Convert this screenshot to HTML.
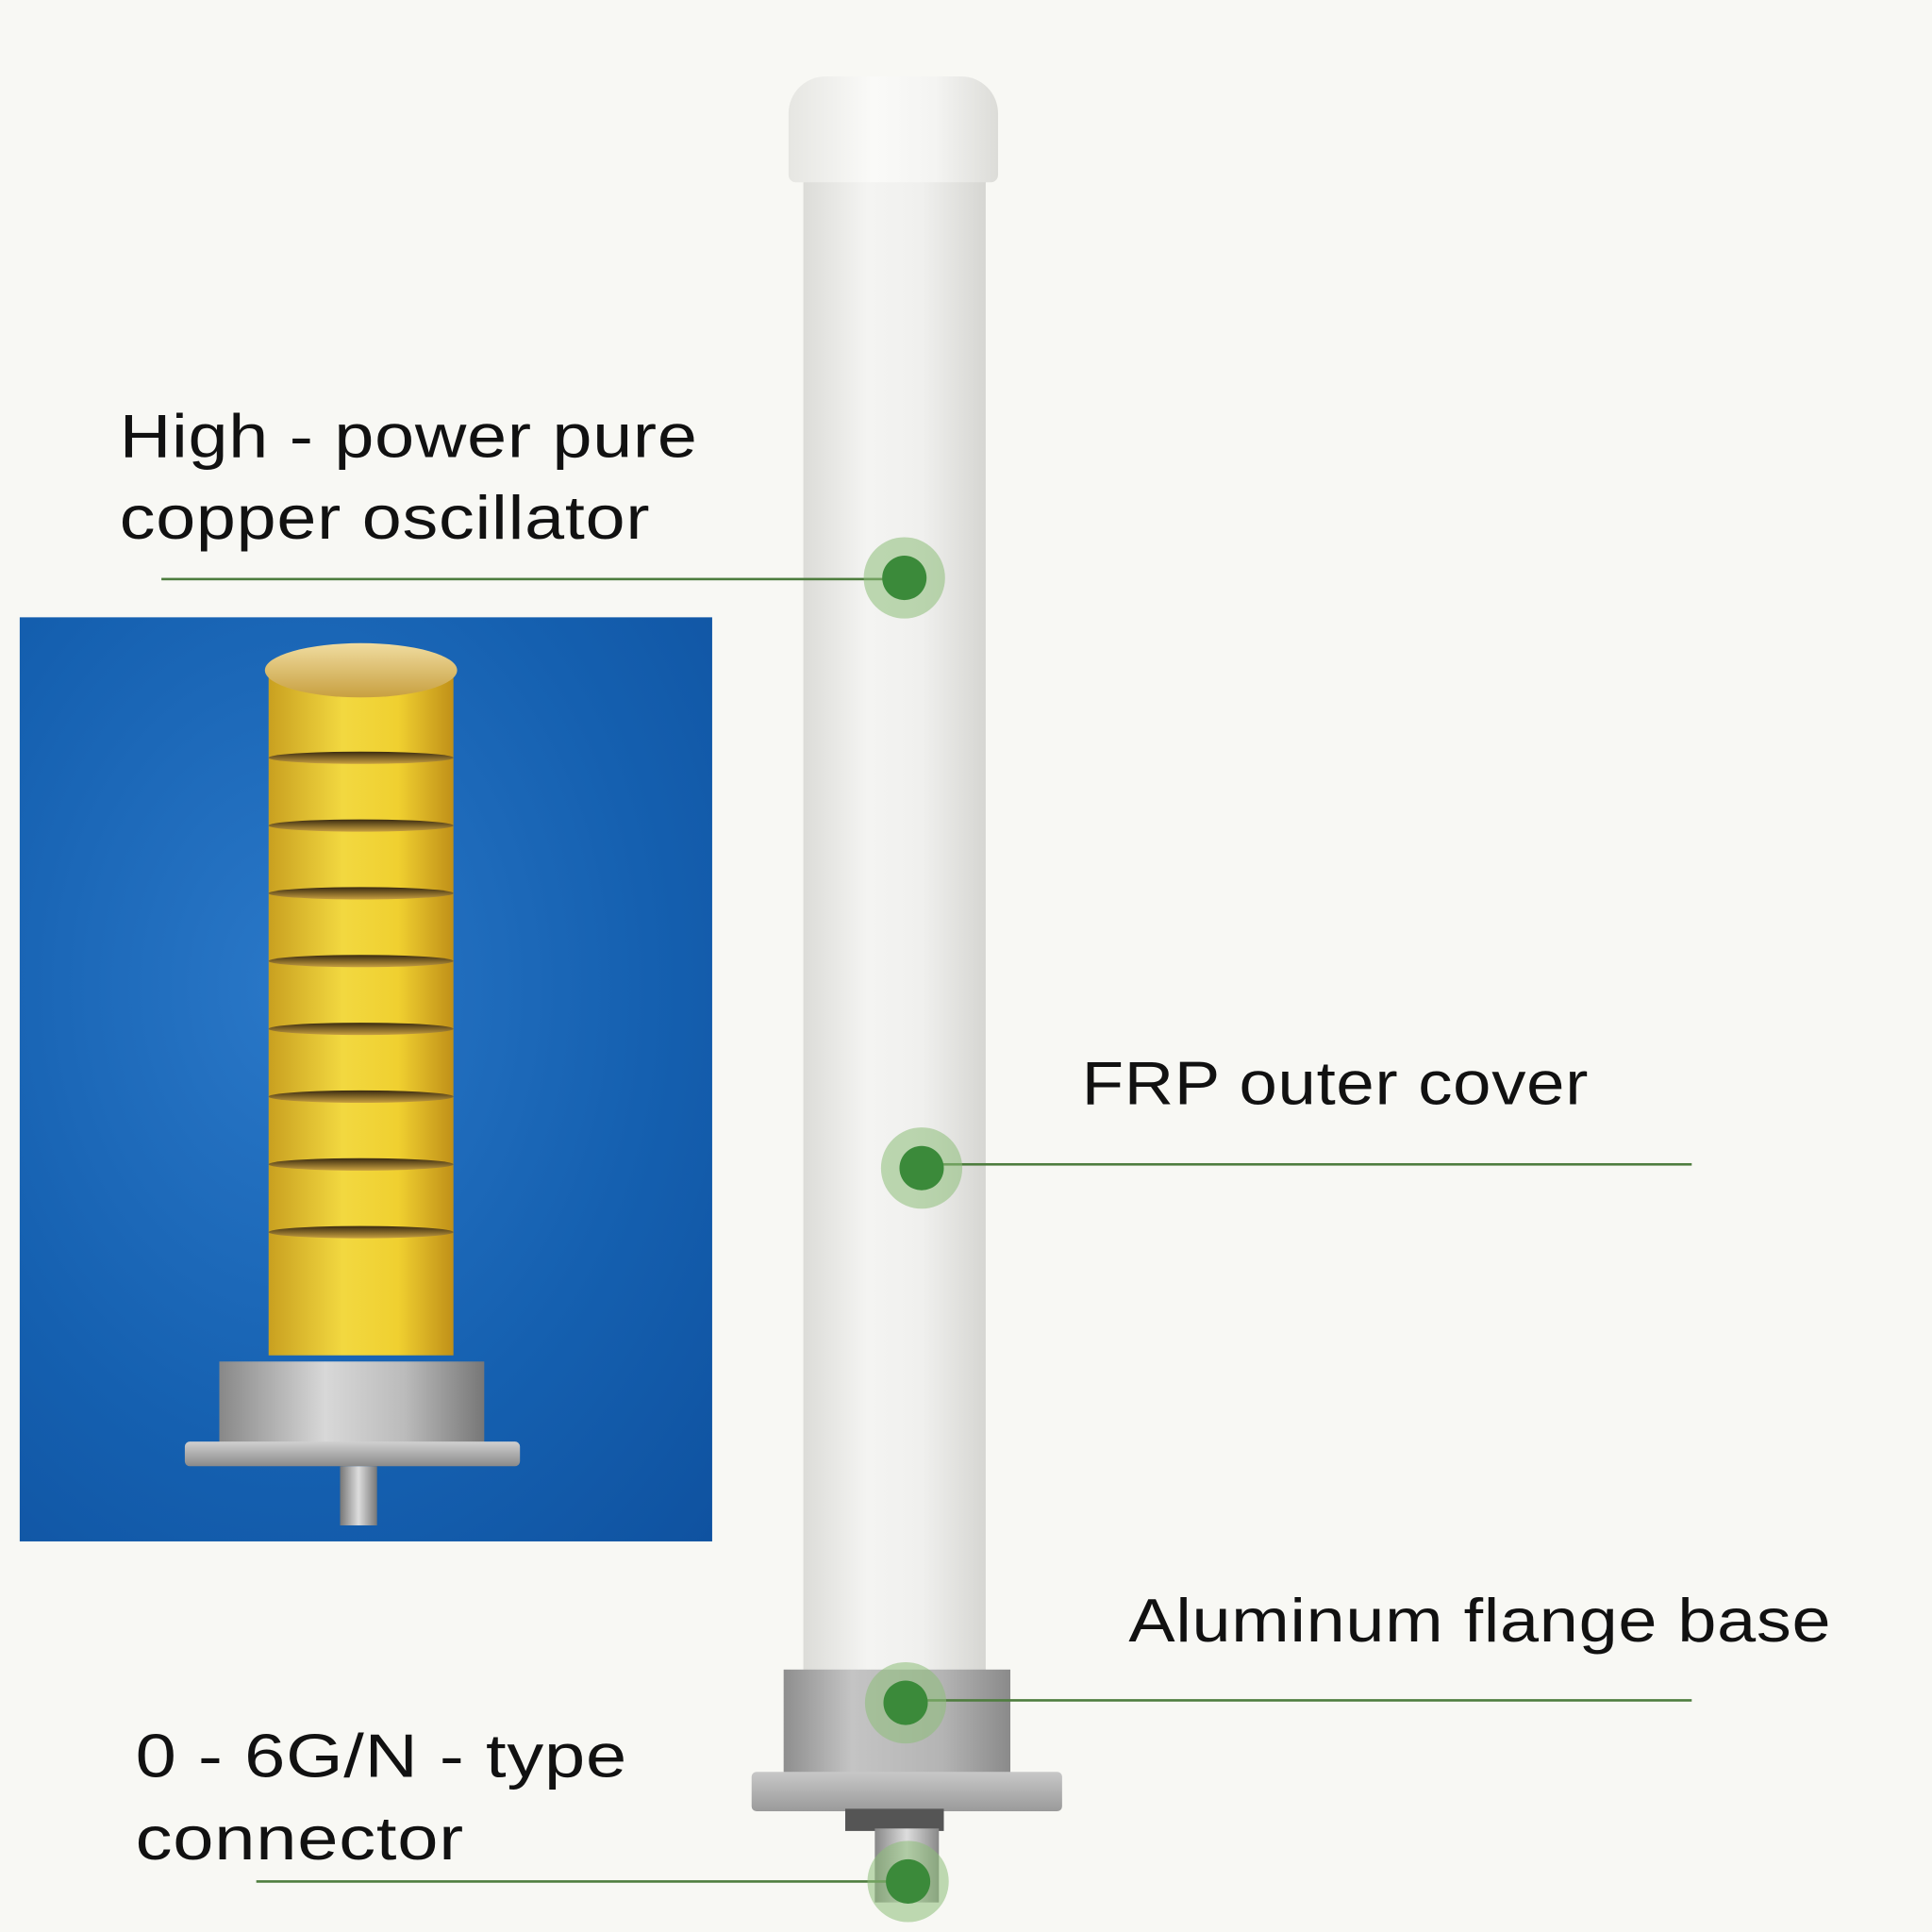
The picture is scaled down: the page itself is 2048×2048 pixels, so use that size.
<!DOCTYPE html>
<html><head><meta charset="utf-8"><style>
html,body{margin:0;padding:0;width:2048px;height:2048px;overflow:hidden;background:#f8f8f4}
#s{position:absolute;left:0;top:0;width:1568px;height:1568px;transform:scale(1.30612);transform-origin:0 0;background:#f8f8f4;font-family:"Liberation Sans",sans-serif;color:#111}
.a{position:absolute}
.t{position:absolute;font-size:50px;line-height:64px;white-space:nowrap;letter-spacing:0.5px;transform-origin:0 0}
.ln{position:absolute;height:2px;background:#4e7d3e}
.dot{position:absolute;width:66px;height:66px;border-radius:50%;background:rgba(140,190,120,0.55)}
.dot::after{content:"";position:absolute;left:15px;top:15px;width:36px;height:36px;border-radius:50%;background:#3b8a3a}
.ring{position:absolute;left:0;right:0;height:10px;background:linear-gradient(#3a2a10,#c8a040);border-radius:50%}
</style></head><body><div id="s">
<div class="a" style="left:652px;top:130px;width:148px;height:1228px;background:linear-gradient(90deg,#dcdcd8,#f4f4f2 35%,#f0f0ee 65%,#d6d6d2)"></div>
<div class="a" style="left:640px;top:62px;width:170px;height:86px;border-radius:30px 30px 6px 6px;background:linear-gradient(90deg,#e6e6e2,#fafaf8 40%,#f4f4f2 70%,#dcdcd8)"></div>
<div class="a" style="left:636px;top:1355px;width:184px;height:86px;background:linear-gradient(90deg,#8e8e8e,#c4c4c4 30%,#b4b4b4 70%,#8a8a8a)"></div>
<div class="a" style="left:610px;top:1438px;width:252px;height:32px;border-radius:4px;background:linear-gradient(#c8c8c8,#9a9a9a)"></div>
<div class="a" style="left:686px;top:1468px;width:80px;height:18px;background:#555"></div>
<div class="a" style="left:710px;top:1484px;width:52px;height:60px;background:linear-gradient(90deg,#888,#ddd,#888)"></div>
<div class="a" style="left:16px;top:501px;width:562px;height:750px;background:radial-gradient(ellipse at 40% 40%,#2a78c8,#1560b0 60%,#0f52a0)"></div>
<div class="a" style="left:218px;top:540px;width:150px;height:560px;background:linear-gradient(90deg,#c9a020,#f2d840 40%,#f0d030 70%,#c09018)">
<div class="ring" style="top:70px"></div><div class="ring" style="top:125px"></div><div class="ring" style="top:180px"></div><div class="ring" style="top:235px"></div><div class="ring" style="top:290px"></div><div class="ring" style="top:345px"></div><div class="ring" style="top:400px"></div><div class="ring" style="top:455px"></div>
</div>
<div class="a" style="left:215px;top:522px;width:156px;height:44px;border-radius:50%;background:linear-gradient(#f0dca0,#c8a040)"></div>
<div class="a" style="left:178px;top:1105px;width:215px;height:70px;background:linear-gradient(90deg,#888,#d8d8d8 40%,#bbb 70%,#777)"></div>
<div class="a" style="left:150px;top:1170px;width:272px;height:20px;border-radius:4px;background:linear-gradient(#d0d0d0,#8a8a8a)"></div>
<div class="a" style="left:276px;top:1190px;width:30px;height:48px;background:linear-gradient(90deg,#777,#ddd,#777)"></div>
<div class="t" style="left:97px;top:322px;transform:scaleX(1.156)">High - power pure</div>
<div class="t" style="left:97px;top:388px;transform:scaleX(1.156)">copper oscillator</div>
<div class="ln" style="left:131px;top:469px;width:604px"></div>
<div class="dot" style="left:701px;top:436px"></div>
<div class="t" style="left:878px;top:847px;transform:scaleX(1.11)">FRP outer cover</div>
<div class="ln" style="left:748px;top:944px;width:625px"></div>
<div class="dot" style="left:715px;top:915px"></div>
<div class="t" style="left:916px;top:1283px;transform:scaleX(1.13)">Aluminum flange base</div>
<div class="ln" style="left:735px;top:1379px;width:638px"></div>
<div class="dot" style="left:702px;top:1349px"></div>
<div class="t" style="left:110px;top:1393px;transform:scaleX(1.19)">0 - 6G/N - type</div>
<div class="t" style="left:110px;top:1460px;transform:scaleX(1.19)">connector</div>
<div class="ln" style="left:208px;top:1526px;width:527px"></div>
<div class="dot" style="left:704px;top:1494px"></div>
</div></body></html>
